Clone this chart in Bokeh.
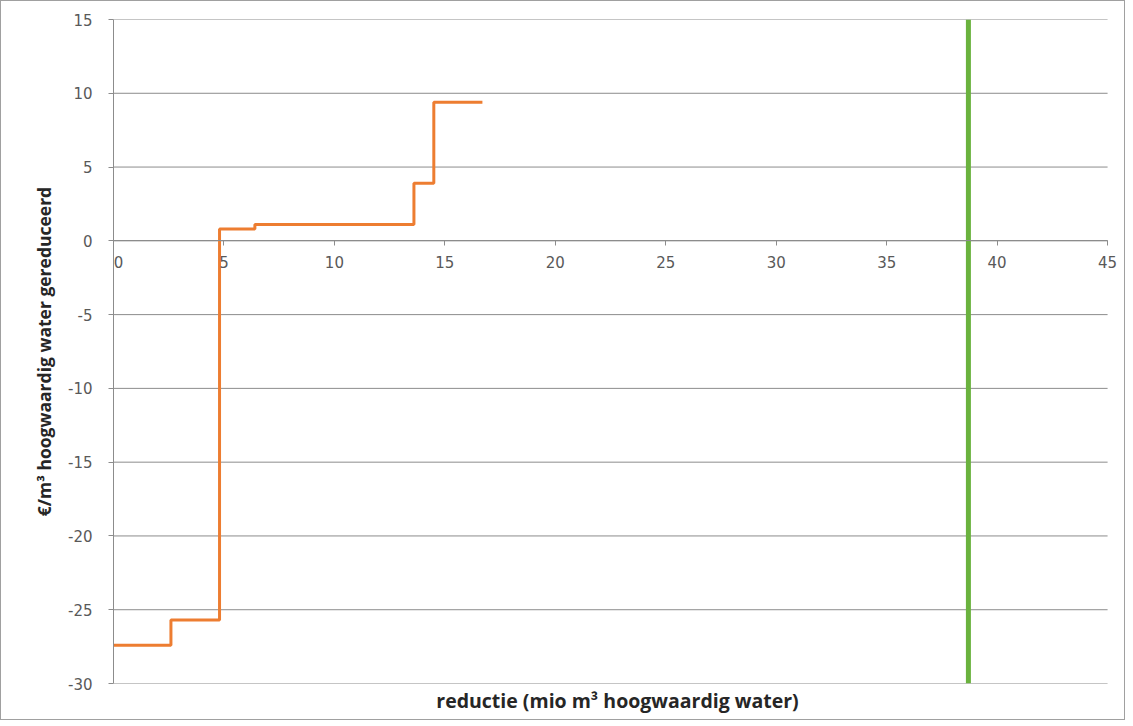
from bokeh.plotting import figure
from bokeh.models import Range1d, FixedTicker, Title, ColumnDataSource, LabelSet
from bokeh.core.properties import value
from bokeh.embed import file_html
from bokeh.resources import INLINE

# step curve (cost per m3 vs cumulative reduction)
step_x = [0, 2.6, 4.8, 6.4, 13.6, 14.5, 16.7]
step_y = [-27.4, -25.7, 0.8, 1.1, 3.9, 9.4, 9.4]

# target reduction (vertical line)
target_x = [38.7]
target_y0 = [-30]
target_y1 = [15]

x_ticks = [0, 5, 10, 15, 20, 25, 30, 35, 40, 45]
y_ticks = [15, 10, 5, 0, -5, -10, -15, -20, -25, -30]

TICK_FONT = "DejaVu Sans"
TITLE_FONT = "Open Sans"
GRAY = "#595959"
LINE = "#8c8c8c"

p = figure(width=1125, height=720, output_backend="svg", toolbar_location=None,
           x_range=Range1d(0, 45.63), y_range=Range1d(-30, 15),
           min_border_left=112, min_border_right=5, min_border_top=18, min_border_bottom=38)
p.outline_line_color = None
p.background_fill_color = "white"
p.border_fill_color = "white"

# horizontal gridlines spanning the data width (0..45)
p.segment(x0=[x_ticks[0]] * len(y_ticks), y0=y_ticks, x1=[x_ticks[-1]] * len(y_ticks), y1=y_ticks,
          line_color=LINE, line_width=1)
p.xgrid.grid_line_color = None
p.ygrid.grid_line_color = None

# axes
p.xaxis.fixed_location = 0
p.xaxis.bounds = (x_ticks[0], x_ticks[-1])
p.xaxis.ticker = FixedTicker(ticks=x_ticks)
p.yaxis.ticker = FixedTicker(ticks=y_ticks)
for ax in (p.xaxis, p.yaxis):
    ax.axis_line_color = LINE
    ax.major_tick_line_color = LINE
    ax.minor_tick_line_color = None
    ax.major_tick_in = 0
    ax.major_tick_out = 5
    ax.major_label_text_font = TICK_FONT
    ax.major_label_text_font_size = "15px"
    ax.major_label_text_color = GRAY
p.xaxis.major_label_text_color = None
p.yaxis.major_label_overrides = {v: str(v) for v in y_ticks}
p.yaxis.major_label_standoff = 16

yt = Title(text="€/m³ hoogwaardig water gereduceerd", align="center",
           text_font=TITLE_FONT, text_font_style="bold", text_font_size="17.5px",
           text_color="#262626", standoff=20, offset=30)
p.add_layout(yt, "left")

# x tick labels placed along the y=0 axis line (first one nudged right of the y axis)
xl_src = ColumnDataSource(dict(x=x_ticks, y=[0] * len(x_ticks), t=[str(v) for v in x_ticks],
                               dx=[5] + [0] * (len(x_ticks) - 1)))
p.add_layout(LabelSet(x="x", y="y", text="t", source=xl_src, x_offset="dx",
                      text_align="center", text_baseline="top", y_offset=-15,
                      text_font=value(TICK_FONT), text_font_size=value("15px"),
                      text_color=GRAY))

xt = Title(text="reductie (mio m³ hoogwaardig water)", align="center",
           text_font=TITLE_FONT, text_font_style="bold", text_font_size="19.5px",
           text_color="#262626", standoff=2)
p.add_layout(xt, "below")

src = ColumnDataSource(dict(x=step_x, y=step_y))
p.step("x", "y", source=src, mode="after", line_color="#ED7D31", line_width=3)

p.segment(x0=target_x, y0=target_y0, x1=target_x, y1=target_y1,
          line_color="#6AB23E", line_width=5)

p.styles = {"border": "1px solid #a0a0a0"}

open("out.html", "w").write(file_html(p, INLINE))
